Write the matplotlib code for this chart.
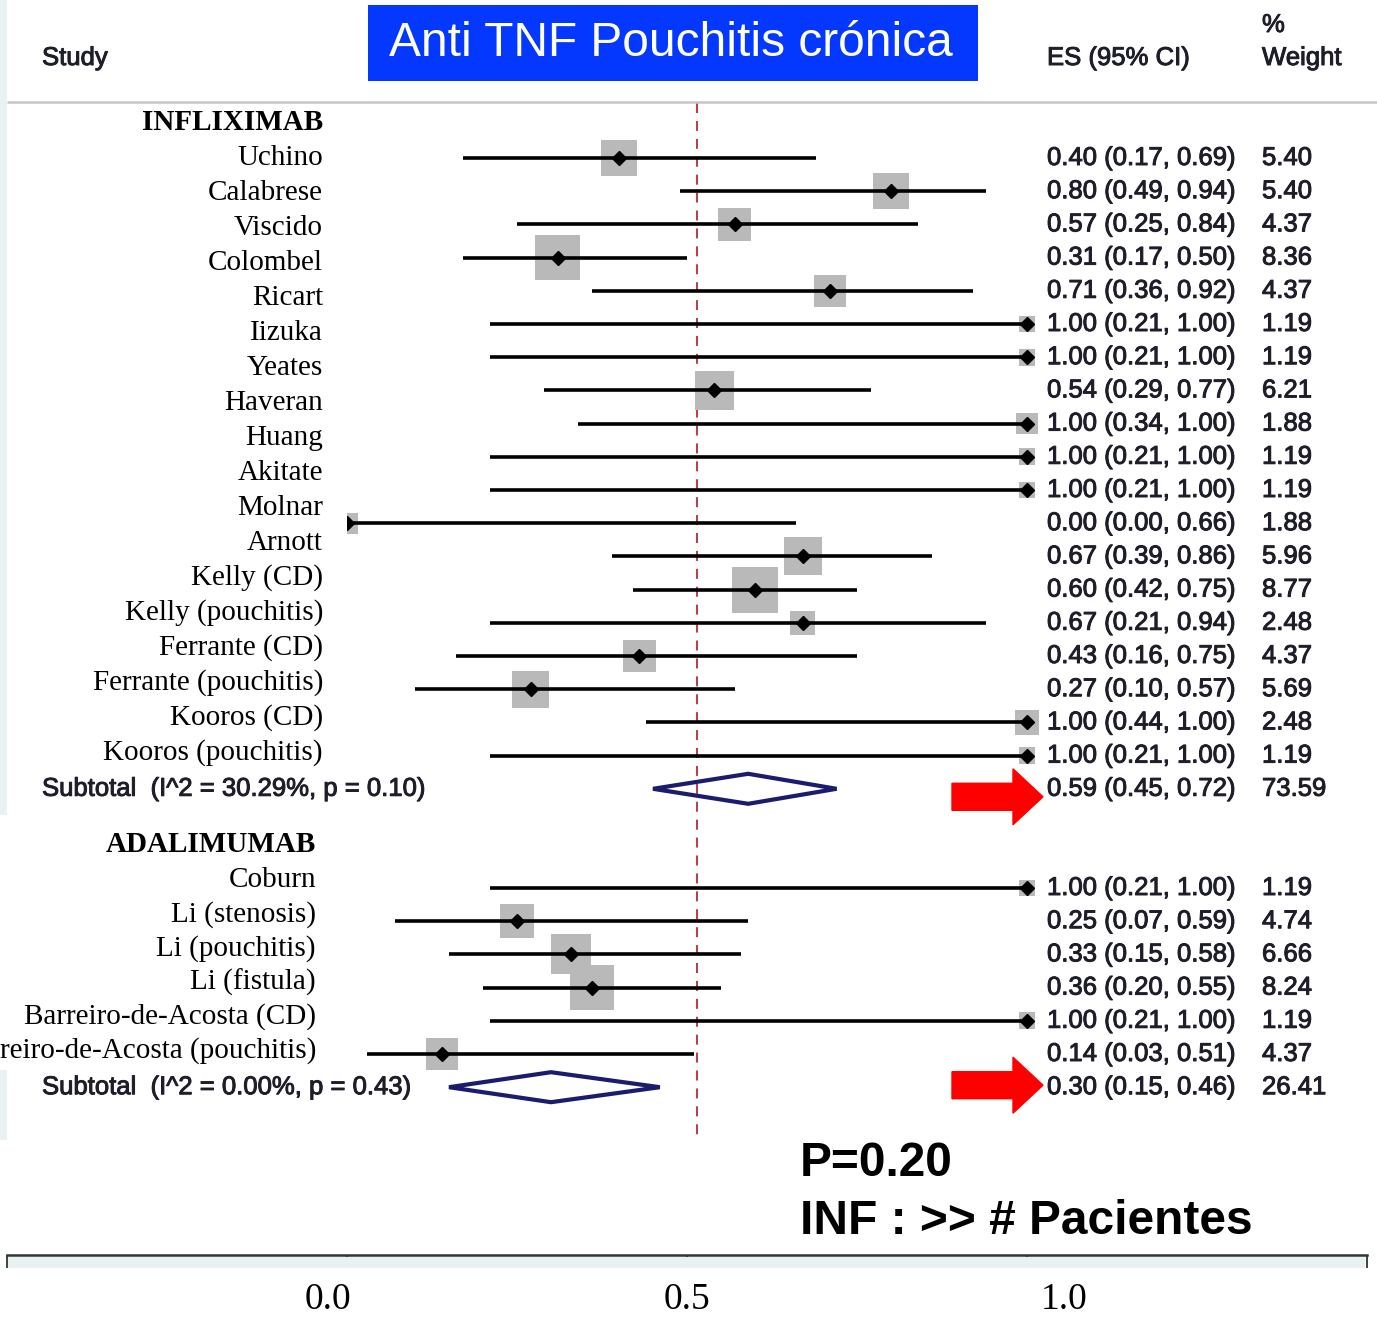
import matplotlib
matplotlib.use("Agg")
import matplotlib.pyplot as plt
from matplotlib.patches import Rectangle, Polygon, FancyArrow
from matplotlib.transforms import ScaledTranslation
import matplotlib.patheffects as pe
import numpy as np

# ---- data ---------------------------------------------------------------
inf_labels = ["Uchino", "Calabrese", "Viscido", "Colombel", "Ricart", "Iizuka",
              "Yeates", "Haveran", "Huang", "Akitate", "Molnar", "Arnott",
              "Kelly (CD)", "Kelly (pouchitis)", "Ferrante (CD)",
              "Ferrante (pouchitis)", "Kooros (CD)", "Kooros (pouchitis)"]
inf_es = [0.40, 0.80, 0.57, 0.31, 0.71, 1.00, 1.00, 0.54, 1.00, 1.00,
          1.00, 0.00, 0.67, 0.60, 0.67, 0.43, 0.27, 1.00, 1.00]
inf_lci = [0.17, 0.49, 0.25, 0.17, 0.36, 0.21, 0.21, 0.29, 0.34, 0.21,
           0.21, 0.00, 0.39, 0.42, 0.21, 0.16, 0.10, 0.44, 0.21]
inf_uci = [0.69, 0.94, 0.84, 0.50, 0.92, 1.00, 1.00, 0.77, 1.00, 1.00,
           1.00, 0.66, 0.86, 0.75, 0.94, 0.75, 0.57, 1.00, 1.00]
inf_wt = [5.40, 5.40, 4.37, 8.36, 4.37, 1.19, 1.19, 6.21, 1.88, 1.19,
          1.19, 1.88, 5.96, 8.77, 2.48, 4.37, 5.69, 2.48, 1.19]
inf_sub = (0.59, 0.45, 0.72, 73.59)
inf_sub_label = "Subtotal  (I^2 = 30.29%, p = 0.10)"

ada_labels = ["Coburn", "Li (stenosis)", "Li (pouchitis)", "Li (fistula)",
              "Barreiro-de-Acosta (CD)", "Barreiro-de-Acosta (pouchitis)"]
ada_es = [1.00, 0.25, 0.33, 0.36, 1.00, 0.14]
ada_lci = [0.21, 0.07, 0.15, 0.20, 0.21, 0.03]
ada_uci = [1.00, 0.59, 0.58, 0.55, 1.00, 0.51]
ada_wt = [1.19, 4.74, 6.66, 8.24, 1.19, 4.37]
ada_sub = (0.30, 0.15, 0.46, 26.41)
ada_sub_label = "Subtotal  (I^2 = 0.00%, p = 0.43)"

overall_es = 0.515
x_ticks = [-0.5, 0.0, 0.5, 1.0, 1.5]
x_ticklabels = ["", "0.0", "0.5", "1.0", ""]

SANS = "Liberation Sans"
SERIF = "Liberation Serif"
TXT = "#1e1e2a"
FS = 18.5
# Stata output text is a touch heavier than plain regular
heavy = [pe.withStroke(linewidth=0.7, foreground=TXT)]

W, H = 1377, 1320
fig = plt.figure(figsize=(W / 100, H / 100), dpi=100)
fig.patch.set_facecolor("white")

# axes: x in effect-size units, y in pixels from the top of the figure
ax = fig.add_axes([7 / W, 65 / H, 1360 / W, 1255 / H])
ax.set_xlim(-0.5, 1.5)
ax.set_ylim(1255, 0)
ax.patch.set_visible(False)


def px(x):
    # horizontal pixel -> effect-size units
    return (x - 347) / 680


inf_y = 158 + 33.2 * np.arange(len(inf_es))
inf_sub_y = 158 + 33.2 * len(inf_es)
ada_y = 888 + 33.2 * np.arange(len(ada_es))
ada_sub_y = 888 + 33.2 * len(ada_es)


def stata_text(x, y, s, **kw):
    ax.text(px(x), y, s, ha="left", va="center", family=SANS, fontsize=FS,
            color=TXT, path_effects=heavy, zorder=6, **kw)


def draw_studies(ys, es, lci, uci, wt):
    side_pt = 15.5 * np.sqrt(np.array(wt)) * 0.72
    ax.scatter(es, ys, s=side_pt ** 2, marker="s", color="#b9b9b9",
               edgecolor="none", zorder=2)
    ax.hlines(ys, lci, uci, color="black", lw=2.6, zorder=3)
    ax.plot(es, ys, "D", color="black", ms=7, zorder=4)


def draw_diamond(y, es, lci, uci):
    d = Polygon([(lci, y), (es, y - 15), (uci, y), (es, y + 15)], closed=True,
                fill=False, edgecolor="#1c1c6e", lw=3.0, zorder=4)
    ax.add_patch(d)


draw_studies(inf_y, inf_es, inf_lci, inf_uci, inf_wt)
draw_studies(ada_y, ada_es, ada_lci, ada_uci, ada_wt)
draw_diamond(inf_sub_y, *inf_sub[:3])
draw_diamond(ada_sub_y, *ada_sub[:3])

# overall effect reference line
ax.vlines(overall_es, 103, 1138, colors="#b3434e", lw=1.5,
          linestyles=(0, (4.8, 3.8)), zorder=1)

# header rule
ax.hlines(102, -0.5, px(1377), colors="#c6c6c6", lw=1.8, zorder=1,
          clip_on=False)

# left label panel covers anything below zero
ax.add_patch(Rectangle((-0.5, 104), 0.5, 711, facecolor="white",
                       edgecolor="none", zorder=5))

# study labels
ax.text(px(323), 122, "INFLIXIMAB", ha="right", va="center", family=SERIF,
        fontsize=21, fontweight="bold", color="black", zorder=6)
for i, lab in enumerate(inf_labels):
    ax.text(px(323), 158 + 35 * i, lab, ha="right", va="center",
            family=SERIF, fontsize=21, color="black", zorder=6)
ax.text(px(316), 845, "ADALIMUMAB", ha="right", va="center", family=SERIF,
        fontsize=21, fontweight="bold", color="black", zorder=6)
for i, lab in enumerate(ada_labels):
    ax.text(px(316), 880 + 34.2 * i, lab, ha="right", va="center",
            family=SERIF, fontsize=21, color="black", zorder=6)

stata_text(42, inf_sub_y, inf_sub_label)
stata_text(42, ada_sub_y, ada_sub_label)


# ES (95% CI) and weight columns
def draw_values(ys, es, lci, uci, wt):
    for y, e, lo, hi, w in zip(ys, es, lci, uci, wt):
        stata_text(1047, y, f"{e:.2f} ({lo:.2f}, {hi:.2f})")
        stata_text(1262, y, f"{w:.2f}")


draw_values(inf_y, inf_es, inf_lci, inf_uci, inf_wt)
draw_values(ada_y, ada_es, ada_lci, ada_uci, ada_wt)
draw_values([inf_sub_y], [inf_sub[0]], [inf_sub[1]], [inf_sub[2]], [inf_sub[3]])
draw_values([ada_sub_y], [ada_sub[0]], [ada_sub[1]], [ada_sub[2]], [ada_sub[3]])

# column headers
stata_text(42, 58, "Study")
stata_text(1047, 58, "ES (95% CI)")
stata_text(1262, 25, "%")
stata_text(1262, 58, "Weight")

# red arrows pointing at the subtotals
for y in (inf_sub_y + 8, ada_sub_y - 2):
    ax.add_patch(FancyArrow(px(952), y, px(1043) - px(952), 0, width=27,
                            head_width=56, head_length=30 / 680,
                            length_includes_head=True, color="#ff0000",
                            zorder=6))

# annotations
ax.text(px(800), 1163, "P=0.20", ha="left", va="center", family=SANS,
        fontsize=34.5, fontweight="bold", color="black", zorder=6)
ax.text(px(800), 1221, "INF : >> # Pacientes", ha="left", va="center",
        family=SANS, fontsize=34.5, fontweight="bold", color="black", zorder=6)

# title box
fig.patches.append(Rectangle((368 / W, 1 - 81 / H), 610 / W, 76 / H,
                             transform=fig.transFigure, facecolor="#0538ff",
                             edgecolor="none"))
fig.text(671 / W, 1 - 44 / H, "Anti TNF Pouchitis crónica", ha="center",
         va="center", family=SANS, fontsize=34.5, color="white")

# light strips at the left edge and under the axis
for (x0, y0, w, h) in [(0, 0, 7, 815), (0, 1070, 7, 70), (8, 1257, 1357, 11)]:
    fig.patches.append(Rectangle((x0 / W, 1 - (y0 + h) / H), w / W, h / H,
                                 transform=fig.transFigure,
                                 facecolor="#e9f1f3", edgecolor="none",
                                 zorder=0))

# x axis
for side in ("top", "left", "right"):
    ax.spines[side].set_visible(False)
ax.spines["bottom"].set_color("#333333")
ax.spines["bottom"].set_linewidth(1.8)
ax.set_yticks([])
ax.set_xticks(x_ticks)
ax.set_xticklabels(x_ticklabels, family=SERIF, fontsize=27)
ax.tick_params(axis="x", direction="out", length=9, width=1.3,
               color="#333333", pad=11)
label_shift = {"0.0": -19, "0.5": 0, "1.0": 37}
for lab in ax.get_xticklabels():
    dx = label_shift.get(lab.get_text(), 0)
    lab.set_transform(lab.get_transform() +
                      ScaledTranslation(dx / 100, 0, fig.dpi_scale_trans))

fig.savefig("out.png", dpi=100, facecolor="white")
